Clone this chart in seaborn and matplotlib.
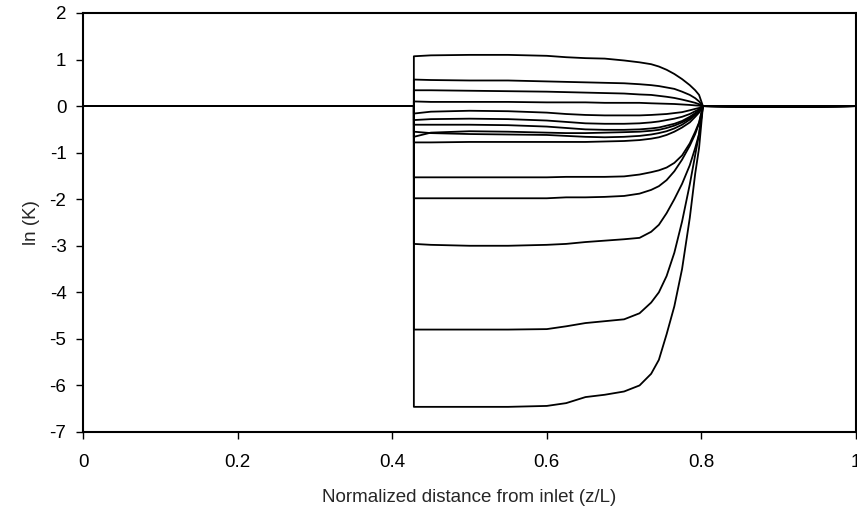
import pandas as pd
import matplotlib.pyplot as plt
import seaborn as sns

# z/L positions where every run is sampled (the step sits at z/L = 0.428)
z = [0, 0.428, 0.428, 0.45, 0.5, 0.55, 0.6, 0.625, 0.65, 0.675, 0.7, 0.72,
     0.735, 0.745, 0.755, 0.765, 0.775, 0.785, 0.792, 0.797, 0.802,
     0.85, 0.9, 0.95, 1.0]

# ln(K), one list per run
run01 = [0, 0, 1.07, 1.09, 1.10, 1.10, 1.08, 1.05, 1.03, 1.02, 0.98, 0.94, 0.90, 0.85, 0.78, 0.69, 0.58, 0.45, 0.34, 0.24, 0, 0, 0, 0, 0]
run02 = [0, 0, 0.57, 0.56, 0.55, 0.55, 0.53, 0.52, 0.51, 0.50, 0.49, 0.47, 0.45, 0.43, 0.40, 0.37, 0.31, 0.24, 0.17, 0.10, 0, 0, 0, 0, 0]
run03 = [0, 0, 0.34, 0.34, 0.33, 0.32, 0.31, 0.30, 0.29, 0.28, 0.27, 0.25, 0.24, 0.22, 0.20, 0.175, 0.14, 0.10, 0.07, 0.04, 0, 0, 0, 0, 0]
run04 = [0, 0, 0.10, 0.09, 0.09, 0.09, 0.08, 0.08, 0.08, 0.07, 0.07, 0.07, 0.06, 0.055, 0.05, 0.045, 0.035, 0.025, 0.015, 0.01, 0, 0, 0, 0, 0]
run05 = [0, 0, -0.16, -0.12, -0.10, -0.11, -0.14, -0.17, -0.19, -0.20, -0.20, -0.20, -0.19, -0.18, -0.17, -0.15, -0.13, -0.09, -0.06, -0.04, 0, 0, 0, 0, 0]
run06 = [0, 0, -0.30, -0.28, -0.27, -0.28, -0.31, -0.34, -0.37, -0.38, -0.38, -0.37, -0.35, -0.33, -0.30, -0.27, -0.23, -0.17, -0.11, -0.07, 0, 0, -0.01, 0, 0]
run07 = [0, 0, -0.40, -0.40, -0.40, -0.41, -0.44, -0.47, -0.50, -0.51, -0.51, -0.50, -0.48, -0.46, -0.42, -0.38, -0.32, -0.23, -0.15, -0.09, 0, 0, -0.01, 0, 0]
run08 = [0, 0, -0.66, -0.57, -0.54, -0.55, -0.57, -0.58, -0.58, -0.57, -0.56, -0.55, -0.53, -0.51, -0.47, -0.42, -0.35, -0.26, -0.17, -0.10, 0, -0.01, -0.01, -0.01, 0]
run09 = [0, 0, -0.55, -0.58, -0.60, -0.61, -0.62, -0.64, -0.66, -0.67, -0.66, -0.64, -0.61, -0.58, -0.54, -0.48, -0.40, -0.29, -0.19, -0.12, 0, -0.01, -0.01, -0.01, 0]
run10 = [0, 0, -0.78, -0.78, -0.77, -0.77, -0.77, -0.77, -0.77, -0.76, -0.75, -0.73, -0.70, -0.67, -0.62, -0.55, -0.46, -0.35, -0.23, -0.14, 0, -0.01, -0.02, -0.01, 0]
run11 = [0, 0, -1.53, -1.53, -1.53, -1.53, -1.53, -1.52, -1.52, -1.52, -1.51, -1.47, -1.42, -1.38, -1.32, -1.22, -1.06, -0.80, -0.55, -0.35, 0, -0.01, -0.02, -0.01, 0]
run12 = [0, 0, -1.98, -1.98, -1.98, -1.98, -1.98, -1.96, -1.96, -1.95, -1.93, -1.88, -1.80, -1.72, -1.59, -1.40, -1.15, -0.85, -0.60, -0.37, 0, -0.01, -0.02, -0.01, 0]
run13 = [0, 0, -2.96, -2.98, -3.00, -3.00, -2.98, -2.96, -2.92, -2.89, -2.86, -2.83, -2.70, -2.55, -2.30, -2.00, -1.67, -1.27, -0.90, -0.60, 0, -0.01, -0.02, -0.01, 0]
run14 = [0, 0, -4.80, -4.80, -4.80, -4.80, -4.79, -4.73, -4.66, -4.62, -4.58, -4.45, -4.22, -4.00, -3.65, -3.15, -2.48, -1.68, -1.05, -0.60, 0, -0.01, -0.02, -0.01, 0]
run15 = [0, 0, -6.46, -6.46, -6.46, -6.46, -6.44, -6.38, -6.25, -6.20, -6.13, -6.00, -5.75, -5.45, -4.90, -4.30, -3.50, -2.40, -1.45, -0.90, 0, -0.01, -0.02, -0.01, 0]

runs = [run01, run02, run03, run04, run05, run06, run07, run08,
        run09, run10, run11, run12, run13, run14, run15]

x_ticks = [0, 0.2, 0.4, 0.6, 0.8, 1.0]
x_labels = ["0", "0.2", "0.4", "0.6", "0.8", "1"]
y_ticks = list(range(-7, 3))

rows = []
for i, vals in enumerate(runs):
    for k, (zz, v) in enumerate(zip(z, vals)):
        rows.append({"run": i, "order": k, "z": zz, "lnK": v})
df = pd.DataFrame(rows)

sns.set_style("ticks")
plt.rcParams["font.family"] = ["Liberation Sans", "DejaVu Sans"]
plt.rcParams["axes.unicode_minus"] = False

fig = plt.figure(figsize=(8.57, 5.13), dpi=100)
ax = fig.add_axes([0.0969, 0.1579, 0.9019, 0.8168])

sns.lineplot(data=df, x="z", y="lnK", units="run", estimator=None,
             sort=False, color="black", linewidth=1.3, ax=ax)

ax.set_xlim(0, 1)
ax.set_ylim(-7, 2)
ax.set_xticks(x_ticks)
ax.set_xticklabels(x_labels)
ax.set_yticks(y_ticks)
ax.set_yticklabels([str(t) for t in y_ticks])
ax.tick_params(direction="out", length=5, width=1, labelsize=13.5, colors="black")
ax.tick_params(axis="x", pad=11)
ax.tick_params(axis="y", pad=7)
for s in ax.spines.values():
    s.set_linewidth(1.5)
    s.set_color("black")
ax.set_xlabel("Normalized distance from inlet (z/L)", fontsize=13.5, labelpad=13)
ax.set_ylabel("ln (K)", fontsize=13.5, labelpad=7)

fig.savefig("out.png", dpi=100)
